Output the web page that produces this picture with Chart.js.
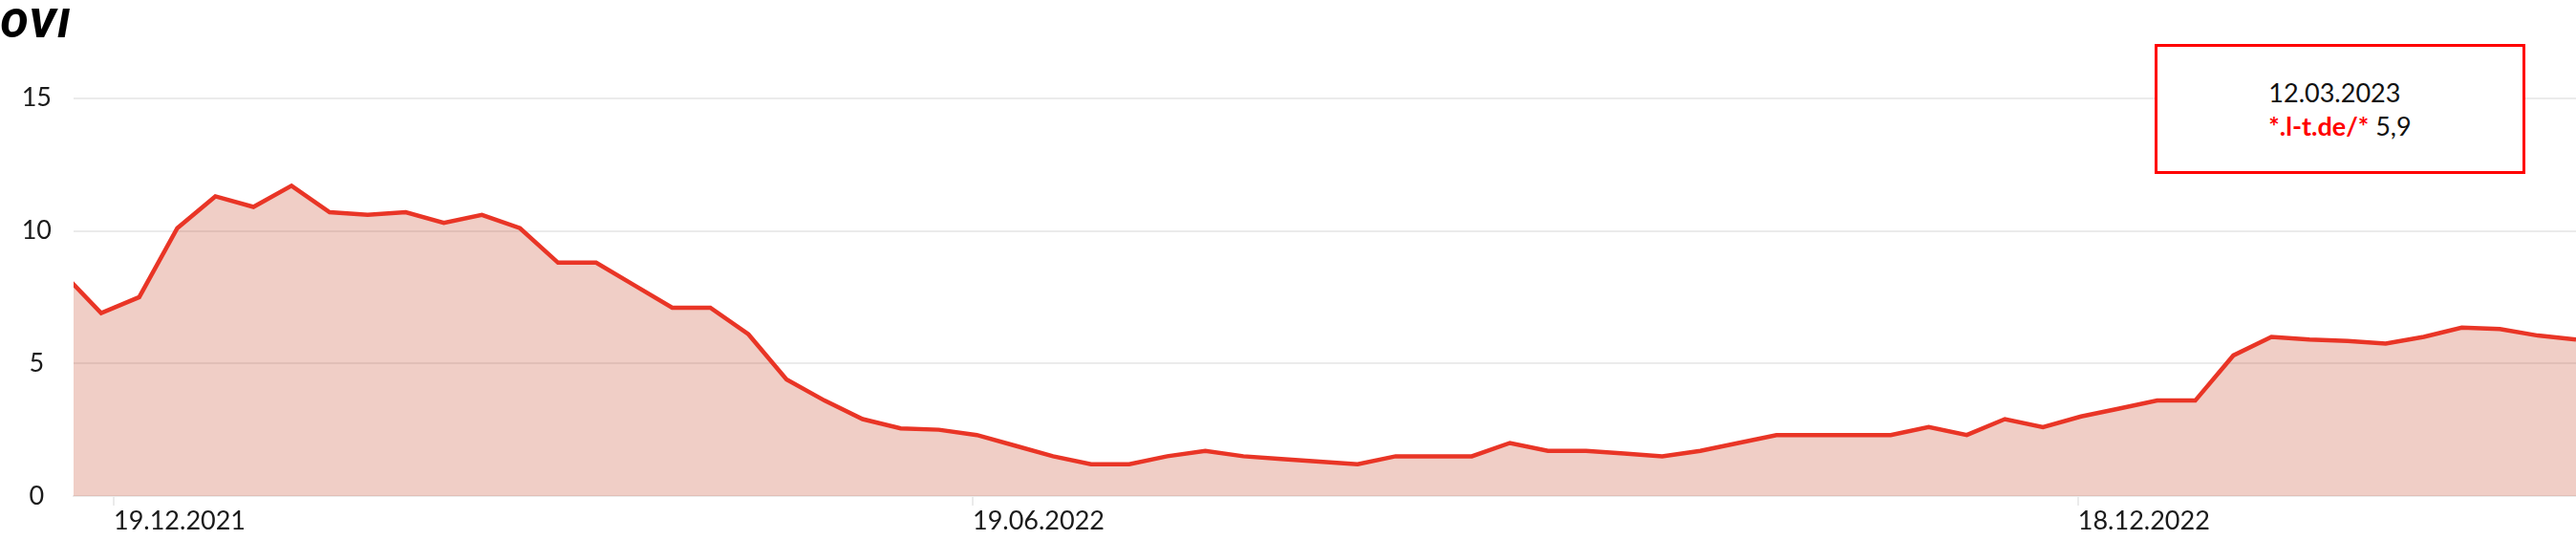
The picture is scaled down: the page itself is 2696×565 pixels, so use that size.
<!DOCTYPE html>
<html>
<head>
<meta charset="utf-8">
<title>OVI</title>
<script src="https://cdn.jsdelivr.net/npm/chart.js@4.4.1/dist/chart.umd.min.js"></script>
<style>
  html, body { margin: 0; padding: 0; background: #fff; }
  #wrap { position: relative; width: 2696px; height: 565px; overflow: hidden; }
  #chartTitle {
    position: absolute; left: 0; top: 4px;
    font: italic 900 43px/40px Roboto, 'Liberation Sans', sans-serif;
    color: #000; letter-spacing: 2px;
  }
  #tipBox {
    position: absolute; left: 2255px; top: 46px; width: 388px; height: 136px;
    box-sizing: border-box; border: 3px solid #ff0000; background: #fff;
    display: flex; align-items: center; justify-content: center;
    font: 27px/35px Lato, sans-serif; color: #111;
  }
  #tipBox .name { color: #ff0000; font-weight: bold; }
</style>
</head>
<body>
<div id="wrap">
  <canvas id="oviChart"></canvas>
  <div id="chartTitle">OVI</div>
  <div id="tipBox">
    <div>
      <div id="tipDate"></div>
      <div><span class="name" id="tipName"></span> <span id="tipValue"></span></div>
    </div>
  </div>
</div>
<script>
// weekly visibility values (first point sits just left of the plot)
const seriesName = '*.l-t.de/*';
const visibility = [
    8.4, 6.9, 7.5, 10.1, 11.3, 10.9, 11.7, 10.7, 10.6, 10.7,
    10.3, 10.6, 10.1, 8.8, 8.8, 7.95, 7.1, 7.1, 6.1, 4.4,
    3.6, 2.9, 2.55, 2.5, 2.3, 1.9, 1.5, 1.2, 1.2, 1.5,
    1.7, 1.5, 1.4, 1.3, 1.2, 1.5, 1.5, 1.5, 2.0, 1.7,
    1.7, 1.6, 1.5, 1.7, 2.0, 2.3, 2.3, 2.3, 2.3, 2.6,
    2.3, 2.9, 2.6, 3.0, 3.3, 3.6, 3.6, 5.3, 6.0, 5.9,
    5.85, 5.75, 6.0, 6.35, 6.3, 6.05, 5.9
];

// x axis labels and where they sit along the point index
const xTickLabels = ['19.12.2021', '19.06.2022', '18.12.2022'];
const xTickValues = [1.33, 23.89, 52.92];
const yTickValues = [0, 5, 10, 15];

const hoverDate = '12.03.2023';

const gridColor = '#ebebeb';
const textColor = '#1a1a1a';

function buildChart() {
    const ctx = document.getElementById('oviChart').getContext('2d');
    const points = visibility.map((v, i) => ({ x: i, y: v }));

    return new Chart(ctx, {
        type: 'line',
        data: {
            datasets: [{
                label: seriesName,
                data: points,
                borderColor: '#e93526',
                borderWidth: 4.5,
                backgroundColor: 'rgba(195, 59, 27, 0.25)',
                fill: 'origin',
                tension: 0,
                pointRadius: 0,
                pointHoverRadius: 0
            }]
        },
        options: {
            responsive: true,
            maintainAspectRatio: false,
            animation: false,
            events: [],
            layout: {
                padding: { top: 75, left: 0, right: 0, bottom: 0 }
            },
            plugins: {
                legend: { display: false },
                title: { display: false },
                tooltip: { enabled: false }
            },
            scales: {
                x: {
                    type: 'linear',
                    min: 0.276,
                    max: visibility.length - 1,
                    afterBuildTicks: axis => {
                        axis.ticks = xTickValues.map(v => ({ value: v }));
                    },
                    afterFit: axis => { axis.height = 46; },
                    grid: {
                        drawOnChartArea: false,
                        drawTicks: true,
                        tickLength: 10,
                        color: gridColor,
                        lineWidth: 2
                    },
                    border: { display: true, color: gridColor, width: 2 },
                    ticks: {
                        autoSkip: false,
                        maxRotation: 0,
                        align: 'start',
                        padding: 0,
                        color: textColor,
                        font: { family: 'Lato', size: 27 },
                        callback: (value, index) => xTickLabels[index]
                    }
                },
                y: {
                    min: 0,
                    max: 16,
                    afterBuildTicks: axis => {
                        axis.ticks = yTickValues.map(v => ({ value: v }));
                    },
                    afterFit: axis => { axis.width = 77; },
                    grid: {
                        drawTicks: false,
                        color: gridColor,
                        lineWidth: 2
                    },
                    border: { display: false },
                    ticks: {
                        crossAlign: 'center',
                        padding: 23,
                        color: textColor,
                        font: { family: 'Lato', size: 27 }
                    }
                }
            }
        }
    });
}

function fillTooltip() {
    // box shows the latest week, as in the reference
    const last = visibility[visibility.length - 1];
    document.getElementById('tipDate').textContent = hoverDate;
    document.getElementById('tipName').textContent = seriesName;
    document.getElementById('tipValue').textContent = last.toLocaleString('de-DE', { maximumFractionDigits: 1 });
}

buildChart();
fillTooltip();
</script>
</body>
</html>
